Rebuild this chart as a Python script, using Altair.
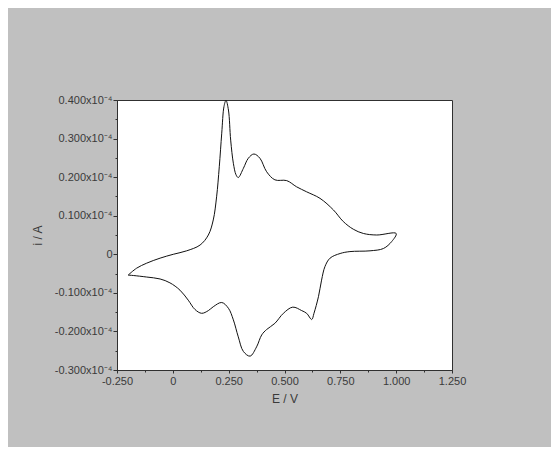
import altair as alt
import pandas as pd

# Cyclic voltammogram: potential E (V) and current i (x10^-4 A), in scan order
E_vals = [
    -0.200, -0.162, -0.117, -0.057, 0.002, 0.062, 0.122, 0.159, 0.181, 0.196,
    0.208, 0.219, 0.229, 0.238, 0.249, 0.259, 0.271, 0.283, 0.293, 0.316,
    0.338, 0.363, 0.390, 0.420, 0.457, 0.510, 0.554, 0.599, 0.659, 0.719,
    0.763, 0.808, 0.853, 0.913, 1.000,
    0.980, 0.943, 0.883, 0.793, 0.749, 0.704, 0.681, 0.666, 0.652, 0.632,
    0.622, 0.599, 0.577, 0.537, 0.495, 0.457, 0.420, 0.398, 0.375, 0.346,
    0.316, 0.293, 0.271, 0.249, 0.219, 0.181, 0.159, 0.129, 0.099, 0.069,
    0.032, -0.013, -0.057, -0.117, -0.177, -0.200,
]
i_vals = [
    -0.054, -0.036, -0.023, -0.010, 0.000, 0.009, 0.024, 0.050, 0.089, 0.149,
    0.227, 0.314, 0.383, 0.399, 0.374, 0.296, 0.236, 0.206, 0.199, 0.223,
    0.249, 0.260, 0.249, 0.214, 0.193, 0.191, 0.175, 0.162, 0.145, 0.115,
    0.085, 0.065, 0.054, 0.050, 0.054,
    0.033, 0.015, 0.009, 0.007, 0.002, -0.010, -0.032, -0.067, -0.110, -0.153,
    -0.169, -0.153, -0.146, -0.137, -0.153, -0.179, -0.195, -0.209, -0.240, -0.264,
    -0.252, -0.214, -0.170, -0.140, -0.125, -0.136, -0.146, -0.153, -0.143, -0.119,
    -0.093, -0.074, -0.064, -0.059, -0.055, -0.054,
]

x_major = [-0.25, 0, 0.25, 0.5, 0.75, 1.0, 1.25]
x_minor = [-0.125, 0.125, 0.375, 0.625, 0.875, 1.125]
y_major = [-0.3, -0.2, -0.1, 0, 0.1, 0.2, 0.3, 0.4]
y_minor = [-0.25, -0.15, -0.05, 0.05, 0.15, 0.25, 0.35]

df = pd.DataFrame({"E": E_vals, "i": i_vals, "k": list(range(len(E_vals)))})

FONT = "Liberation Sans"
TXT = "#3a3a3a"
AX = "#303030"

xlab = "datum.value == 0 ? '0' : replace(format(datum.value, '.3f'), '\u2212', '-')"
ylab = "datum.value == 0 ? '0' : replace(format(datum.value, '.3f'), '\u2212', '-') + 'x10\u207b\u2074'"

xscale = alt.Scale(domain=[-0.25, 1.25], nice=False, zero=False)
yscale = alt.Scale(domain=[-0.3, 0.4], nice=False, zero=False)

main = alt.Chart(df).mark_line(color="#111111", strokeWidth=1, interpolate="catmull-rom", clip=True).encode(
    x=alt.X("E:Q", scale=xscale, axis=alt.Axis(
        values=x_major, labelExpr=xlab, title="E / V", orient="bottom",
        tickSize=3, labelPadding=2, titlePadding=7, grid=False)),
    y=alt.Y("i:Q", scale=yscale, axis=alt.Axis(
        values=y_major, labelExpr=ylab, title="i / A", orient="left",
        tickSize=4, labelPadding=1, titlePadding=10, grid=False)),
    order="k:Q",
)

minor = alt.Chart(df).mark_point(opacity=0).encode(
    x=alt.X("E:Q", scale=xscale, axis=alt.Axis(
        values=x_minor, labels=False, title=None, orient="bottom",
        tickSize=2, grid=False)),
    y=alt.Y("i:Q", scale=yscale, axis=alt.Axis(
        values=y_minor, labels=False, title=None, orient="left",
        tickSize=2, grid=False)),
)

chart = alt.layer(main, minor).resolve_axis(x="independent", y="independent").properties(
    width=335, height=270,
    background="#c0c0c0",
    autosize=alt.AutoSizeParams(type="none"),
    padding={"left": 109, "top": 92, "right": 99, "bottom": 77},
).configure_view(
    fill="white", stroke=AX, strokeWidth=1,
).configure_axis(
    labelFont=FONT, titleFont=FONT, labelFontSize=11, titleFontSize=12,
    labelColor=TXT, titleColor=TXT, titleFontWeight="normal",
    domainColor=AX, tickColor=AX, domainWidth=1, tickWidth=1,
    labelFlush=False, labelOverlap=False,
)

chart.save("out.html", embed_options={"renderer": "svg", "actions": False})
